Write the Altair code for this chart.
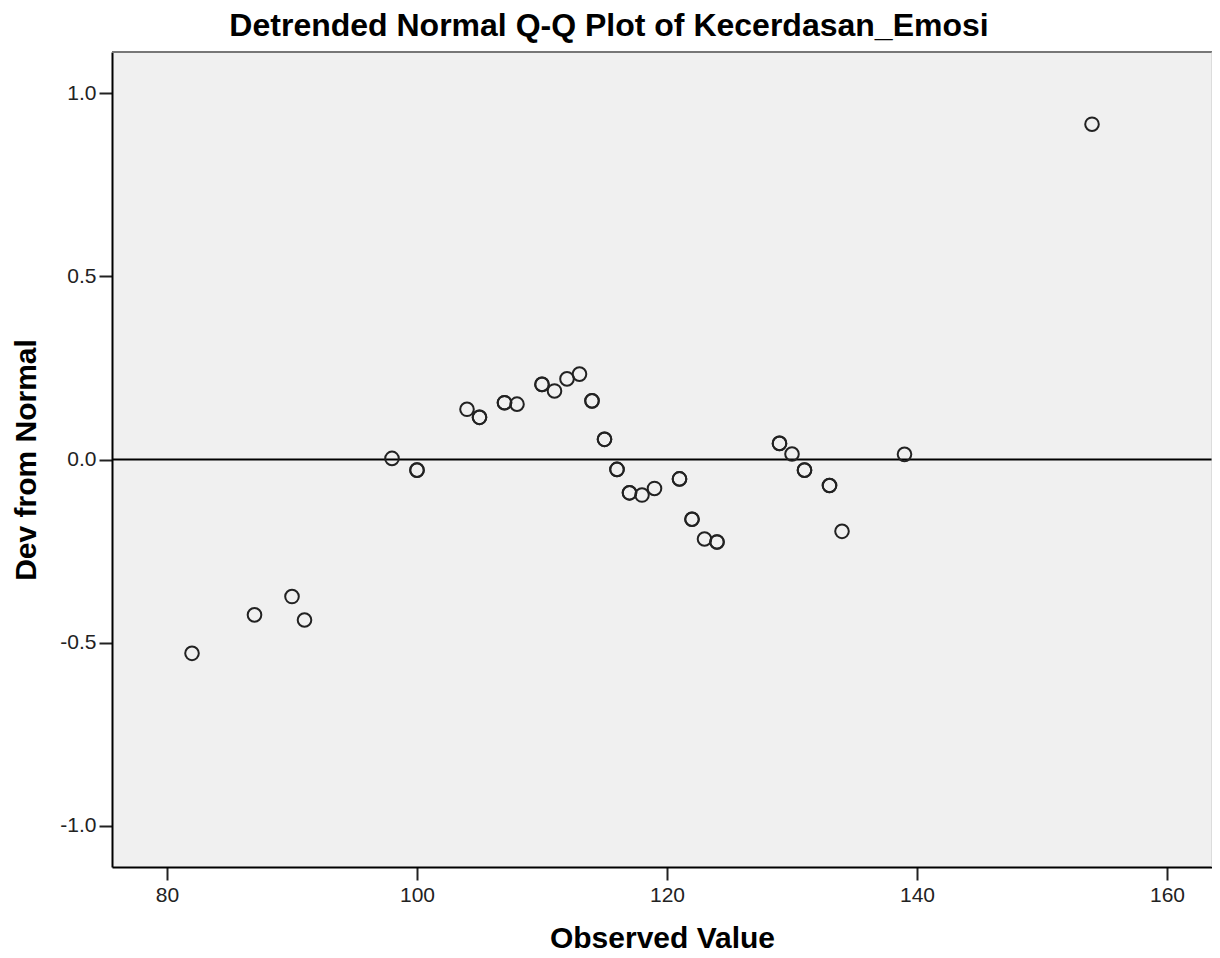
import altair as alt
import pandas as pd

observed = [82, 87, 90, 91, 98, 100, 104, 105, 107, 108, 110, 111, 112, 113, 114,
            115, 116, 117, 118, 119, 121, 122, 123, 124, 129, 130, 131, 133, 134, 139, 154]
dev = [-0.529, -0.424, -0.374, -0.438, 0.003, -0.029, 0.137, 0.115, 0.155, 0.151,
       0.205, 0.187, 0.220, 0.233, 0.160, 0.055, -0.027, -0.091, -0.097, -0.079,
       -0.053, -0.163, -0.217, -0.225, 0.044, 0.015, -0.029, -0.071, -0.196, 0.014, 0.915]
# number of tied cases drawn at the same spot
ties = [1, 1, 1, 1, 1, 2, 1, 2, 2, 1, 2, 1, 1, 1, 2,
        2, 2, 2, 1, 1, 2, 2, 1, 2, 2, 1, 2, 2, 1, 1, 1]

x_ticks = [80, 100, 120, 140, 160]
y_ticks = [-1.0, -0.5, 0.0, 0.5, 1.0]

rows = []
for o, d, t in zip(observed, dev, ties):
    for _ in range(t):
        rows.append({"Observed Value": o, "Dev from Normal": d})
df = pd.DataFrame(rows)

W, H = 1100, 815
FONT = "Liberation Sans"

xscale = alt.Scale(domain=[75.6, 163.6], nice=False, zero=False)
yscale = alt.Scale(domain=[-1.112, 1.112], nice=False, zero=False)

lab = "datum.value < 0 ? '-' + format(-datum.value, '.1f') : format(datum.value, '.1f')"

points = alt.Chart(df).mark_point(
    shape="circle", filled=False, stroke="#222", strokeWidth=2, size=185, opacity=1
).encode(
    x=alt.X("Observed Value:Q", scale=xscale,
            axis=alt.Axis(values=x_ticks, title="Observed Value", grid=False,
                          domainColor="#000", domainWidth=2, tickColor="#222",
                          tickWidth=2, tickSize=13, labelFontSize=21, labelColor="#222",
                          labelFont=FONT, labelPadding=4, titleFont=FONT,
                          titleFontSize=30, titleFontWeight="bold", titleColor="#000",
                          titleY=80, titleBaseline="alphabetic")),
    y=alt.Y("Dev from Normal:Q", scale=yscale,
            axis=alt.Axis(values=y_ticks, labelExpr=lab, title="Dev from Normal", grid=False,
                          domainColor="#000", domainWidth=2, tickColor="#222",
                          tickWidth=2, tickSize=13, labelFontSize=21, labelColor="#222",
                          labelFont=FONT, labelPadding=3, titleFont=FONT,
                          titleFontSize=30, titleFontWeight="bold", titleColor="#000",
                          titleX=-77, titleBaseline="alphabetic")),
)

zero = alt.Chart(pd.DataFrame({"y": [0.0]})).mark_rule(color="#000", strokeWidth=2).encode(
    y=alt.Y("y:Q", scale=yscale)
)

top_edge = alt.Chart().mark_rule(color="#777", strokeWidth=2).encode(
    x=alt.value(0), x2=alt.value(W), y=alt.value(0)
)
right_edge = alt.Chart().mark_rule(color="#c8c8c8", strokeWidth=1).encode(
    x=alt.value(W), y=alt.value(0), y2=alt.value(H)
)

chart = alt.layer(zero, points, top_edge, right_edge).properties(
    width=W, height=H,
    title=alt.TitleParams("Detrended Normal Q-Q Plot of Kecerdasan_Emosi", font=FONT,
                          fontSize=32, fontWeight="bold", color="#000", anchor="middle",
                          offset=8, dx=-53),
    padding={"left": 104, "top": 44, "right": 0, "bottom": 83},
    autosize=alt.AutoSizeParams(type="none"),
    background="white",
).configure_view(fill="#f0f0f0", stroke=None)

chart.save("out.html", embed_options={"renderer": "svg", "actions": False})
